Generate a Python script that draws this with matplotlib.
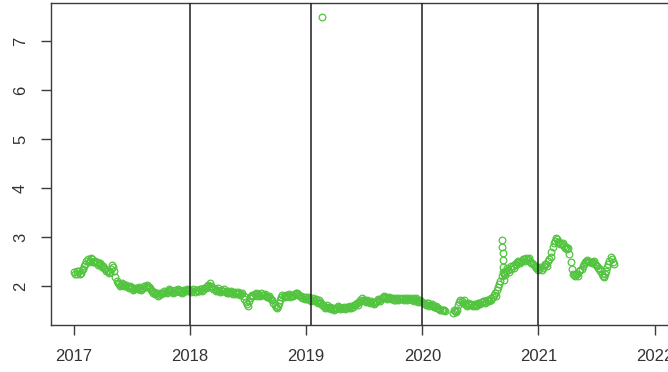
import numpy as np
import pandas as pd
import matplotlib
matplotlib.use("Agg")
import matplotlib.pyplot as plt

# Monday readings, weekly from 2017-01-02
monday_start = "2017-01-02"
monday_2017 = [2.28, 2.25, 2.30, 2.27, 2.35, 2.45, 2.55, 2.52, 2.56, 2.50,
               2.48, 2.45, 2.42, 2.40, 2.35, 2.30, 2.28, 2.42, 2.30, 2.10,
               2.05, 2.02, 2.05, 2.00, 1.98, 2.00, 1.95, 1.93, 1.95, 1.97,
               1.92, 1.95, 1.98, 2.00, 1.95, 1.90, 1.88, 1.85, 1.82, 1.83,
               1.85, 1.88, 1.90, 1.92, 1.88, 1.87, 1.90, 1.92, 1.90, 1.88,
               1.90, 1.92]
monday_2018 = [1.92, 1.90, 1.88, 1.92, 1.90, 1.93, 1.92, 1.95, 2.02, 2.06,
               1.98, 1.93, 1.92, 1.90, 1.92, 1.90, 1.88, 1.90, 1.87, 1.86,
               1.88, 1.85, 1.86, 1.83, 1.80, 1.68, 1.60, 1.75, 1.82, 1.83,
               1.80, 1.82, 1.85, 1.82, 1.80, 1.78, 1.75, 1.72, 1.62, 1.55,
               1.65, 1.78, 1.80, 1.82, 1.80, 1.78, 1.82, 1.83, 1.85, 1.82,
               1.80, 1.78]
monday_2019 = [1.78, 1.75, 1.72, 1.75, 1.70, 1.68, 1.72, 1.65, 1.60, 1.58,
               1.55, 1.57, 1.55, 1.53, 1.55, 1.57, 1.55, 1.57, 1.55, 1.58,
               1.60, 1.58, 1.62, 1.65, 1.68, 1.75, 1.72, 1.68, 1.70, 1.66,
               1.68, 1.65, 1.70, 1.72, 1.75, 1.80, 1.78, 1.76, 1.73, 1.75,
               1.72, 1.74, 1.76, 1.73, 1.72, 1.75, 1.73, 1.74, 1.76, 1.73,
               1.72, 1.70]
monday_2020 = [1.68, 1.65, 1.62, 1.65, 1.62, 1.60, 1.58, 1.55, 1.53, 1.50,
               1.50, np.nan, np.nan, np.nan, 1.45, 1.48, 1.50, 1.68, 1.70, 1.72,
               1.62, 1.65, 1.62, 1.60, 1.63, 1.62, 1.65, 1.68, 1.70, 1.68,
               1.72, 1.75, 1.78, 1.85, 1.92, 2.05, 2.20, 2.25, 2.30, 2.32,
               2.35, 2.40, 2.45, 2.48, 2.50, 2.52, 2.55, 2.58, 2.55, 2.50,
               2.45, 2.40]
monday_2021 = [2.38, 2.35, 2.32, 2.40, 2.45, 2.52, 2.60, 2.80, 2.92, 2.96,
               2.90, 2.85, 2.82, 2.80, 2.78, 2.50, 2.25, 2.20, 2.25, 2.30,
               2.35, 2.45, 2.50, 2.52, 2.50, 2.48, 2.45, 2.40, 2.35, 2.25,
               2.18, 2.30, 2.45, 2.60, 2.50]

# Thursday readings, weekly from 2017-01-05
thursday_start = "2017-01-05"
thursday_2017 = [2.24, 2.31, 2.25, 2.32, 2.40, 2.52, 2.50, 2.58, 2.48, 2.52,
                 2.43, 2.47, 2.38, 2.36, 2.31, 2.26, 2.35, 2.38, 2.18, 2.06,
                 2.01, 2.06, 1.99, 2.03, 1.95, 1.97, 1.91, 1.96, 1.93, 1.94,
                 1.96, 1.99, 2.02, 1.97, 1.91, 1.86, 1.84, 1.80, 1.85, 1.86,
                 1.89, 1.86, 1.93, 1.89, 1.85, 1.91, 1.94, 1.88, 1.86, 1.91,
                 1.94, 1.89]
thursday_2018 = [1.88, 1.93, 1.91, 1.89, 1.94, 1.90, 1.96, 1.99, 1.97, 2.00,
                 1.94, 1.90, 1.95, 1.88, 1.89, 1.93, 1.85, 1.86, 1.89, 1.83,
                 1.84, 1.88, 1.82, 1.85, 1.74, 1.63, 1.70, 1.80, 1.79, 1.86,
                 1.84, 1.79, 1.81, 1.84, 1.77, 1.80, 1.73, 1.66, 1.58, 1.60,
                 1.72, 1.82, 1.77, 1.79, 1.83, 1.81, 1.79, 1.86, 1.81, 1.79,
                 1.76, 1.74]
thursday_2019 = [1.73, 1.77, 1.70, 1.71, 1.73, 1.66, 1.68, 1.61, 1.56, 1.61,
                 1.58, 1.54, 1.52, 1.56, 1.59, 1.53, 1.56, 1.53, 1.57, 1.55,
                 1.56, 1.61, 1.64, 1.62, 1.72, 1.71, 1.69, 1.72, 1.67, 1.69,
                 1.64, 1.68, 1.73, 1.69, 1.77, 1.76, 1.74, 1.78, 1.76, 1.72,
                 1.75, 1.71, 1.73, 1.76, 1.74, 1.71, 1.76, 1.72, 1.70, 1.75,
                 1.68, 1.71]
thursday_2020 = [1.66, 1.63, 1.66, 1.60, 1.64, 1.57, 1.60, 1.56, 1.51, 1.52,
                 1.48, np.nan, np.nan, np.nan, 1.52, 1.46, 1.62, 1.72, 1.66, 1.64,
                 1.60, 1.63, 1.64, 1.62, 1.60, 1.66, 1.63, 1.70, 1.66, 1.71,
                 1.70, 1.72, 1.82, 1.80, 1.98, 2.10, 2.28, 2.22, 2.36, 2.28,
                 2.40, 2.36, 2.42, 2.52, 2.46, 2.56, 2.51, 2.54, 2.58, 2.46,
                 2.42, 2.36]
thursday_2021 = [2.33, 2.38, 2.36, 2.44, 2.41, 2.56, 2.70, 2.88, 2.98, 2.90,
                 2.86, 2.88, 2.78, 2.76, 2.66, 2.35, 2.22, 2.24, 2.20, 2.33,
                 2.40, 2.48, 2.53, 2.48, 2.46, 2.51, 2.42, 2.37, 2.30, 2.20,
                 2.24, 2.38, 2.52, 2.55, 2.44]

# Daily readings around the sharp moves
extra_dates = ["2019-02-21", "2020-09-08", "2020-09-09", "2020-09-10",
               "2020-09-11", "2020-09-12", "2020-09-13", "2020-09-14"]
extra_rates = [7.50, 2.94, 2.80, 2.67, 2.53, 2.39, 2.27, 2.12]

# Reference dates marked with vertical lines
marker_dates = ["2018-01-01", "2019-01-15", "2020-01-01", "2021-01-01"]

year_ticks = [2017, 2018, 2019, 2020, 2021, 2022]
value_ticks = [2, 3, 4, 5, 6, 7]


def decimal_year(dates):
    d = pd.DatetimeIndex(dates)
    days = np.where(d.is_leap_year, 366.0, 365.0)
    return d.year + (d.dayofyear - 1) / days


mondays = monday_2017 + monday_2018 + monday_2019 + monday_2020 + monday_2021
thursdays = (thursday_2017 + thursday_2018 + thursday_2019 + thursday_2020
             + thursday_2021)
monday_dates = pd.date_range(monday_start, periods=len(mondays), freq="7D")
thursday_dates = pd.date_range(thursday_start, periods=len(thursdays), freq="7D")

x = np.concatenate([decimal_year(monday_dates), decimal_year(thursday_dates),
                    decimal_year(extra_dates)])
y = np.concatenate([np.array(mondays, dtype=float),
                    np.array(thursdays, dtype=float),
                    np.array(extra_rates)])

plt.rcParams["font.family"] = ["Liberation Sans", "DejaVu Sans"]

W, H = 668, 372
fig = plt.figure(figsize=(W / 100, H / 100), dpi=100)
ax = fig.add_axes([51 / W, 47 / H, 661.6 / W, 322 / H])

green = "#52c43f"
ax.plot(x, y, linestyle="none", marker="o", markersize=4.8,
        markerfacecolor="none", markeredgecolor=green, markeredgewidth=0.9,
        zorder=2)

for v in decimal_year(marker_dates):
    ax.axvline(v, color="#1e1e1e", linewidth=1.1, zorder=3)

ax.set_xlim(2016.802, 2022.5)
ax.set_ylim(1.204, 7.776)
ax.set_xticks(year_ticks)
ax.set_xticklabels([str(t) for t in year_ticks])
ax.set_yticks(value_ticks)
ax.set_yticklabels([str(t) for t in value_ticks], rotation=90, va="center")

for side in ["left", "bottom", "top", "right"]:
    ax.spines[side].set_color("#3c3c3c")
    ax.spines[side].set_linewidth(1.0)

ax.tick_params(axis="both", direction="out", length=7.5, width=1.0,
               color="#3c3c3c", labelcolor="#333333", labelsize=12)
ax.tick_params(axis="x", pad=10)
ax.tick_params(axis="y", pad=9)

fig.savefig("out.png", dpi=100)
